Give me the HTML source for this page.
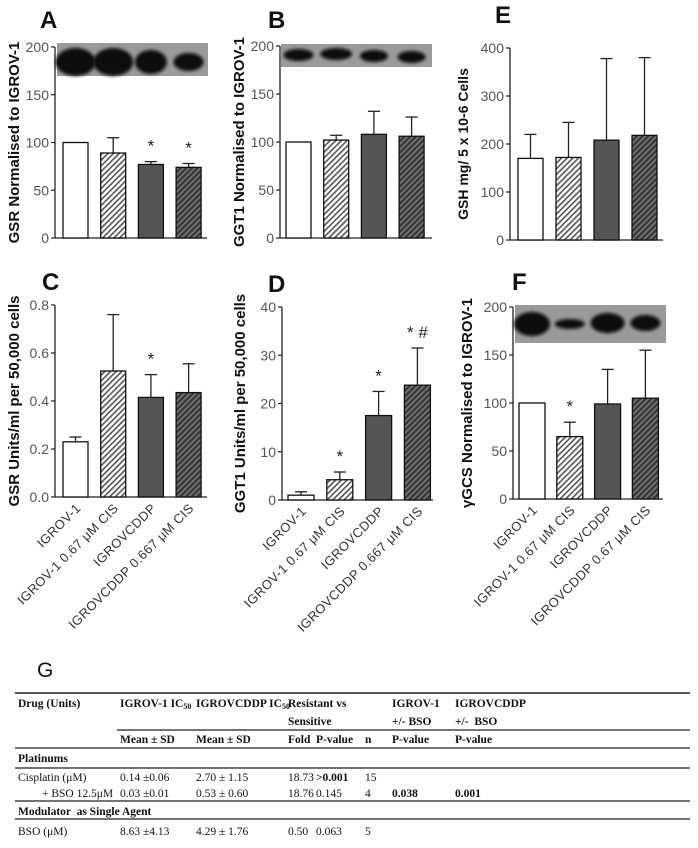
<!DOCTYPE html>
<html><head><meta charset="utf-8"><style>
body{margin:0;background:#fff;width:698px;height:843px;overflow:hidden;font-family:"Liberation Sans",Arial,sans-serif}
svg text{font-family:"Liberation Sans",Arial,sans-serif}
.tbl text.cell{font-family:"Liberation Serif",serif;font-size:11.5px;fill:#111;white-space:pre}
</style></head><body>
<svg id="fig" width="698" height="843" xmlns="http://www.w3.org/2000/svg">
<defs>
<pattern id="hatchLight" width="4" height="4" patternUnits="userSpaceOnUse" patternTransform="rotate(45)">
<rect width="4" height="4" fill="#fff"/><rect width="1.6" height="4" fill="#555"/></pattern>
<pattern id="hatchDark" width="4" height="4" patternUnits="userSpaceOnUse" patternTransform="rotate(45)">
<rect width="4" height="4" fill="#3a3a3a"/><rect width="1.2" height="4" fill="#888"/></pattern>
<filter id="blur" x="-20%" y="-50%" width="140%" height="200%"><feGaussianBlur stdDeviation="1.5"/></filter>
</defs>
</svg>
<script>
// ----- data -----
const categories = ["IGROV-1","IGROV-1 0.67 \u03bcM CIS","IGROVCDDP","IGROVCDDP 0.667 \u03bcM CIS"];
const categoriesF = ["IGROV-1","IGROV-1 0.67 \u03bcM CIS","IGROVCDDP","IGROVCDDP 0.67 \u03bcM CIS"];
const valuesA = [100, 89, 77, 74];
const errorsA = [0, 16, 3, 4];
const valuesB = [100, 102, 108, 106];
const errorsB = [0, 5, 24, 20];
const valuesE = [170, 172, 208, 218];
const errorsE = [50, 73, 170, 162];
const valuesC = [0.23, 0.525, 0.415, 0.435];
const errorsC = [0.02, 0.235, 0.095, 0.12];
const valuesD = [1, 4.2, 17.5, 23.8];
const errorsD = [0.7, 1.6, 5, 7.7];
const valuesF = [100, 65, 99, 105];
const errorsF = [0, 15, 36, 50];
const ticksA = [0, 50, 100, 150, 200];
const ticksB = [0, 50, 100, 150, 200];
const ticksE = [0, 100, 200, 300, 400];
const ticksC = ["0.0", "0.2", "0.4", "0.6", "0.8"];
const ticksD = [0, 10, 20, 30, 40];
const ticksF = [0, 50, 100, 150, 200];
const marksA = ["", "", "*", "*"];
const marksB = ["", "", "", ""];
const marksE = ["", "", "", ""];
const marksC = ["", "", "*", ""];
const marksD = ["", "*", "*", "* #"];
const marksF = ["", "*", "", ""];

const NS = "http://www.w3.org/2000/svg";
const svg = document.getElementById("fig");
function mk(tag, attrs, parent, text){
  const e = document.createElementNS(NS, tag);
  for (const k in attrs) e.setAttribute(k, attrs[k]);
  if (text !== undefined) e.textContent = text;
  (parent || svg).appendChild(e);
  return e;
}
const fills = ["#fff", "url(#hatchLight)", "#555", "url(#hatchDark)"];

function panel(cfg){
  const g = mk("g", {});
  
  
  const ticks = cfg.ticks.map(Number);
  const max = ticks[ticks.length - 1];
  const y = v => cfg.y0 - (v / max) * (cfg.y0 - cfg.yTop);
  if (cfg.blot) {
    const b = cfg.blot;
    const bg = mk("rect", {x:b.x, y:b.y, width:b.w, height:b.h, fill:"#9a9a9a"}, g);
    
    
    b.blobs.forEach((bl, i) => {
      const cx = cfg.x0 + cfg.barOff + i * cfg.step + cfg.barW / 2;
      const el = mk("ellipse", {cx:cx, cy:bl[0], rx:bl[1], ry:bl[2], fill:"#080808", filter:"url(#blur)"}, g);
      
      
    });
  }
  const ax = mk("line", {x1:cfg.x0, y1:cfg.yTop, x2:cfg.x0, y2:cfg.y0, stroke:"#222", "stroke-width":1.3}, g);
  
  
  const xa = mk("line", {x1:cfg.x0, y1:cfg.y0, x2:cfg.x0 + cfg.axisLen, y2:cfg.y0, stroke:"#222", "stroke-width":1.3}, g);
  
  
  cfg.ticks.forEach((t, i) => {
    const ty = y(ticks[i]);
    mk("line", {x1:cfg.x0 - 4, y1:ty, x2:cfg.x0, y2:ty, stroke:"#222", "stroke-width":1.2}, g);
    const tl = mk("text", {x:cfg.x0 - 6, y:ty + 5, "text-anchor":"end", "font-size":14, fill:"#555"}, g, String(t));
    
    
  });
  cfg.values.forEach((v, i) => {
    const bx = cfg.x0 + cfg.barOff + i * cfg.step;
    const cx = bx + cfg.barW / 2;
    const e = cfg.errors[i];
    if (e > 0) {
      mk("line", {x1:cx, y1:y(v), x2:cx, y2:y(v + e), stroke:"#222", "stroke-width":1.3}, g);
      mk("line", {x1:cx - 6, y1:y(v + e), x2:cx + 6, y2:y(v + e), stroke:"#222", "stroke-width":1.3}, g);
    }
    const r = mk("rect", {x:bx, y:y(v), width:cfg.barW, height:cfg.y0 - y(v), fill:fills[i], stroke:"#111", "stroke-width":1.3}, g);
    
    
    if (cfg.marks[i]) {
      const m = mk("text", {x:cx, y:y(v + e) - 10, "text-anchor":"middle", "font-size":17, fill:"#222"}, g, cfg.marks[i]);
      
      
    }
    if (cfg.labels) {
      const lx = cx + 6, ly = cfg.y0 + 12;
      const l = mk("text", {x:lx, y:ly, "text-anchor":"end", "font-size":13, fill:"#333", "letter-spacing":0.4, transform:"rotate(-45 " + lx + " " + ly + ")"}, g, cfg.labels[i]);
      
      
    }
  });
  const midY = (cfg.y0 + cfg.yTop) / 2;
  const t = mk("text", {x:cfg.titleX, y:midY, "text-anchor":"middle", "font-size":cfg.titleSize || 15, "font-weight":"bold", fill:"#111", transform:"rotate(-90 " + cfg.titleX + " " + midY + ")"}, g, cfg.title);
  
  
  const L = mk("text", {x:cfg.letter[1], y:cfg.letter[2], "font-size":24, "font-weight":"bold", fill:"#111"}, g, cfg.letter[0]);
  
  
}

panel({name:"panel-a", x0:55, y0:238, yTop:47, barOff:8, barW:25, step:37.7, axisLen:152,
  values:valuesA, errors:errorsA, ticks:ticksA, marks:marksA, title:"GSR Normalised to IGROV-1", titleX:19,
  letter:["A",40,28], blot:{x:57,y:43,w:151,h:33,blobs:[[62,20,14],[62,20,14],[62,16,12],[62,15,9]]}});
panel({name:"panel-b", x0:280, y0:238, yTop:46, barOff:6, barW:25, step:37.7, axisLen:152,
  values:valuesB, errors:errorsB, ticks:ticksB, marks:marksB, title:"GGT1 Normalised to IGROV-1", titleX:244,
  letter:["B",268,28], blot:{x:281,y:44,w:151,h:23,blobs:[[55,15,6],[54,16,6],[56,14,6],[57,14,6]]}});
panel({name:"panel-e", x0:510, y0:240, yTop:48, barOff:8, barW:25, step:38, axisLen:153,
  values:valuesE, errors:errorsE, ticks:ticksE, marks:marksE, title:"GSH mg/ 5 x 10-6 Cells", titleX:468, titleSize:14,
  letter:["E",495,23]});
panel({name:"panel-c", x0:55, y0:497, yTop:305, barOff:8, barW:25, step:37.7, axisLen:152,
  values:valuesC, errors:errorsC, ticks:ticksC, marks:marksC, title:"GSR Units/ml per 50,000 cells", titleX:19,
  letter:["C",42,290], labels:categories});
panel({name:"panel-d", x0:282, y0:500, yTop:307, barOff:6, barW:26, step:38.8, axisLen:151,
  values:valuesD, errors:errorsD, ticks:ticksD, marks:marksD, title:"GGT1 Units/ml per 50,000 cells", titleX:245,
  letter:["D",268,292], labels:categories});
panel({name:"panel-f", x0:513, y0:499, yTop:307, barOff:6, barW:26, step:37.8, axisLen:150,
  values:valuesF, errors:errorsF, ticks:ticksF, marks:marksF, title:"\u03b3GCS Normalised to IGROV-1", titleX:472,
  letter:["F",512,290], labels:categoriesF, blot:{x:515,y:305,w:151,h:38,blobs:[[324,18,12],[324,15,5],[323,17,10],[323,15,8]]}});

// ----- table G -----
const tg = mk("g", {class:"tbl"});


const gl = mk("text", {x:37, y:677, "font-size":21, fill:"#111"}, tg, "G");


[[15,693,690,1.5],[117,730,690,1.2],[15,748,690,1.2],[15,768,690,1.2],[15,801,690,1.2],[15,819,690,1.2]].forEach(l=>{
  mk("line",{x1:l[0],y1:l[1],x2:l[2],y2:l[1],stroke:"#222","stroke-width":l[3]},tg);
});
const cells = [
 [18,707,"Drug (Units)",1],[120,707,"IGROV-1 IC",1,"50"],[196,707,"IGROVCDDP IC",1,"50"],[288,707,"Resistant vs",1],[392,707,"IGROV-1",1],[455,707,"IGROVCDDP",1],
 [288,725,"Sensitive",1],[392,725,"+/- BSO",1],[455,725,"+/-  BSO",1],
 [120,743,"Mean \u00b1 SD",1],[196,743,"Mean \u00b1 SD",1],[288,743,"Fold",1],[316,743,"P-value",1],[365,743,"n",1],[392,743,"P-value",1],[455,743,"P-value",1],
 [18,762,"Platinums",1],
 [18,781,"Cisplatin (\u03bcM)",0],[120,781,"0.14 \u00b10.06",0],[196,781,"2.70 \u00b1 1.15",0],[288,781,"18.73",0],[316,781,">0.001",1],[365,781,"15",0],
 [42,797,"+ BSO 12.5\u03bcM",0],[120,797,"0.03 \u00b10.01",0],[196,797,"0.53 \u00b1 0.60",0],[288,797,"18.76",0],[316,797,"0.145",0],[365,797,"4",0],[392,797,"0.038",1],[455,797,"0.001",1],
 [18,815,"Modulator  as Single Agent",1],
 [18,835,"BSO (\u03bcM)",0],[120,835,"8.63 \u00b14.13",0],[196,835,"4.29 \u00b1 1.76",0],[288,835,"0.50",0],[316,835,"0.063",0],[365,835,"5",0]
];
cells.forEach(c=>{
  const t = mk("text",{x:c[0],y:c[1],"font-weight":c[3]?"bold":"normal","class":"cell"},tg,c[2]);
  
  
  if (c[4]) {
    mk("tspan",{"font-size":8,dy:2},t,c[4]);
  }
});
</script>
</body></html>
